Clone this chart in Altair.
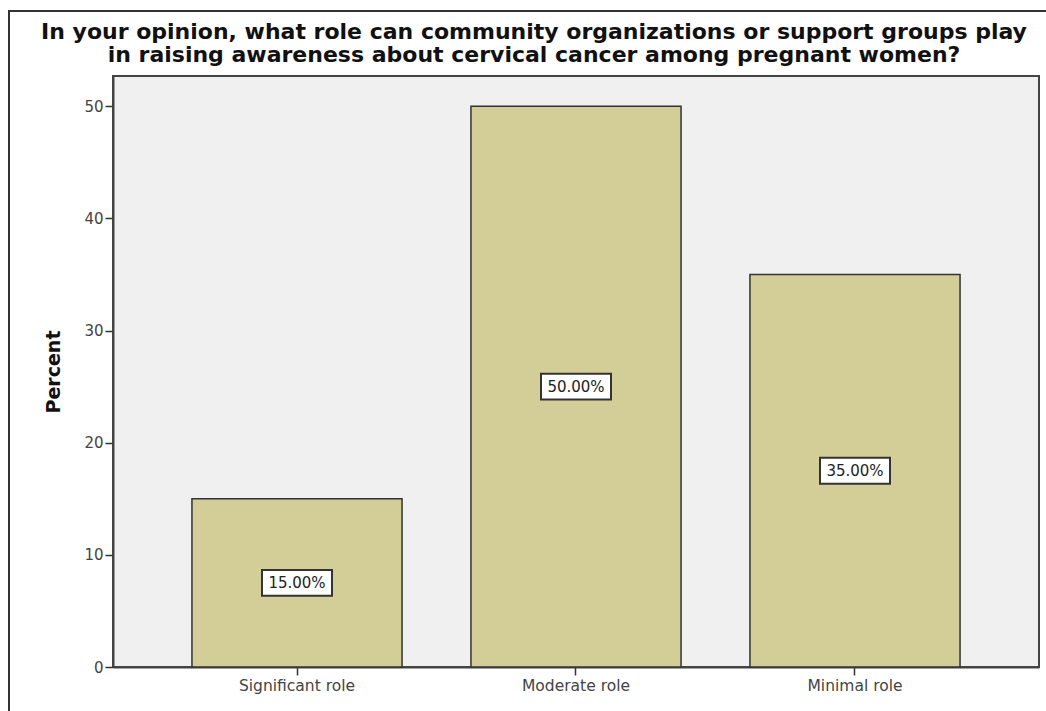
import altair as alt
import pandas as pd

categories = ["Significant role", "Moderate role", "Minimal role"]
percents = [15.0, 50.0, 35.0]
label_texts = ["15.00%", "50.00%", "35.00%"]

df = pd.DataFrame({"cat": categories, "pct": percents, "label": label_texts})
df["mid"] = df["pct"] / 2

FONT = "DejaVu Sans"

x_enc = alt.X("cat:N", sort=categories, title=None,
              scale=alt.Scale(paddingInner=0.247, paddingOuter=0.283),
              axis=alt.Axis(labelAngle=0, labelFontSize=15.5, labelColor="#444",
                            labelFont=FONT, tickSize=8, tickColor="#333",
                            tickWidth=1.5, domainColor="#444", domainWidth=2,
                            labelPadding=3))

base = alt.Chart(df)

bars = base.mark_bar(color="#D3CE97", stroke="#333333", strokeWidth=1.5).encode(
    x=x_enc,
    y=alt.Y("pct:Q", title="Percent",
            scale=alt.Scale(domain=[0, 52.7], nice=False),
            axis=alt.Axis(values=[0, 10, 20, 30, 40, 50], labelFontSize=15,
                          labelColor="#444", labelFont=FONT,
                          tickSize=8, tickColor="#333", tickWidth=1.5,
                          domainColor="#444", domainWidth=2, grid=False,
                          titleFont=FONT, titleFontSize=19,
                          titleFontWeight="bold", titleColor="#111",
                          titlePadding=20, labelPadding=2)),
)

boxes = base.mark_point(
    shape="M-1,-0.37L1,-0.37L1,0.37L-1,0.37Z", size=4900, filled=True,
    fill="white", stroke="#333333", strokeWidth=2, opacity=1,
).encode(x=alt.X("cat:N", sort=categories), y="mid:Q")

texts = base.mark_text(font=FONT, fontSize=15, color="#222").encode(
    x=alt.X("cat:N", sort=categories), y="mid:Q", text="label:N"
)

border = alt.Chart(pd.DataFrame({"a": [0]})).mark_rect(
    fill=None, stroke="#333333", strokeWidth=2, clip=False
).encode(x=alt.value(-104), x2=alt.value(945), y=alt.value(-65), y2=alt.value(650))

chart = alt.layer(border, bars, boxes, texts).properties(
    width=926, height=591,
    background="white",
    title=alt.TitleParams(
        ["In your opinion, what role can community organizations or support groups play",
         "in raising awareness about cervical cancer among pregnant women?"],
        font=FONT, fontSize=22, fontWeight="bold", color="#111",
        anchor="middle", dx=-42, dy=67, offset=10, lineHeight=23,
    ),
    autosize=alt.AutoSizeParams(type="none"),
    padding={"left": 113, "top": 76, "right": 7, "bottom": 44},
).configure_view(
    fill="#F0F0F0", stroke="#444444", strokeWidth=2
)

chart.save("out.html", embed_options={"renderer": "svg", "actions": False})
